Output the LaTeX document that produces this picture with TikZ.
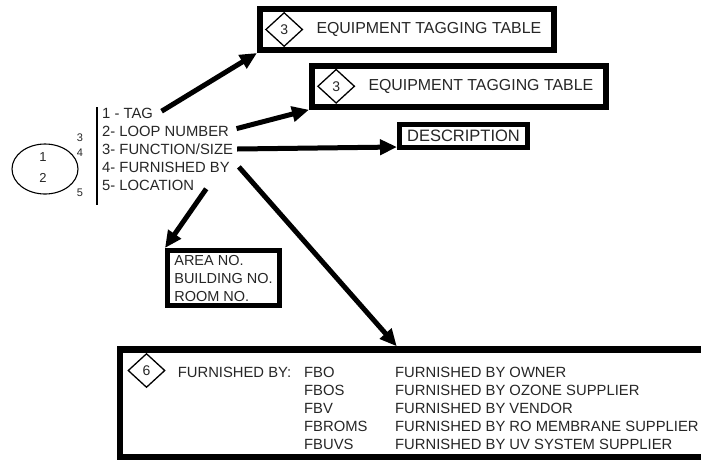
\documentclass[tikz,border=0pt]{standalone}
\usepackage{fontspec}
\setmainfont{Liberation Sans}
\usetikzlibrary{arrows.meta, positioning, shapes.geometric}

\begin{document}
\begin{tikzpicture}[
  x=1pt, y=-1pt,
  >={Triangle[length=17pt, width=15pt]},
  font=\fontsize{14.8pt}{18pt}\selectfont,
  every node/.style={text=black!85},
  tagbox/.style={
    rectangle, draw=black,
    line width=6pt,
    inner sep=0pt,
    minimum width=293.5pt,
    minimum height=41pt
  },
  tagmark/.style={diamond, draw=black, line width=1.3pt, inner sep=0pt,
    minimum width=37pt, minimum height=34pt, font=\fontsize{14pt}{14pt}\selectfont},
  label/.style={inner sep=0pt},
  row/.style={inner sep=0pt, text height=11pt, text depth=0pt, anchor=north west},
  small/.style={inner sep=0pt, font=\fontsize{11pt}{11pt}\selectfont},
  link/.style={->, line width=5pt},
]
\path[use as bounding box, clip] (0,0) rectangle (701,459);

% --- Bubble ---
\node[ellipse, draw=black, line width=1.1pt, minimum width=66pt, minimum height=50pt] (bubble) at (45,169) {};
\node[label, font=\fontsize{13pt}{13pt}\selectfont] (b1) at (43,157) {1};
\node[label, font=\fontsize{13pt}{13pt}\selectfont] (b2) at (43,178) {2};
\node[small] (s3) at (80,138) {3};
\node[small] (s4) at (80,153) {4};
\node[small] (s5) at (80,193) {5};

% --- Legend list ---
\coordinate (bartop) at (97,107);
\coordinate (barbot) at (97,205);
\draw[line width=1.4pt] (bartop) -- (barbot);
\node[row] (r1) at (102,107.5) {1 - TAG};
\node[row, below=6.5pt of r1.south west, anchor=north west] (r2) {2- LOOP NUMBER};
\node[row, below=6.5pt of r2.south west, anchor=north west] (r3) {3- FUNCTION/SIZE};
\node[row, below=6.5pt of r3.south west, anchor=north west] (r4) {4- FURNISHED BY};
\node[row, below=6.5pt of r4.south west, anchor=north west] (r5) {5- LOCATION};

% --- Tagging tables ---
\node[tagbox] (eq1) at (406.75,29.5) {};
\node[tagmark, anchor=west] (d1) at ([xshift=8pt]eq1.west) {3};
\node[label, right=13pt of d1, font=\fontsize{15.9pt}{16pt}\selectfont] (t1) {EQUIPMENT TAGGING TABLE};

\node[tagbox] (eq2) at (458.75,86.25) {};
\node[tagmark, anchor=west] (d2) at ([xshift=8pt]eq2.west) {3};
\node[label, right=13pt of d2, font=\fontsize{15.9pt}{16pt}\selectfont] (t2) {EQUIPMENT TAGGING TABLE};

% --- Description ---
\node[draw=black, line width=5pt, inner sep=1pt, minimum width=128pt, minimum height=23pt,
  font=\fontsize{16.5pt}{17pt}\selectfont] (desc) at (463.5,136) {DESCRIPTION};

% --- Location ---
\node[draw=black, line width=5pt, align=left, inner sep=0pt, minimum width=112pt, minimum height=55pt,
  font=\fontsize{14.5pt}{18pt}\selectfont] (area) at (223.5,278) {AREA NO.\\BUILDING NO.\\ROOM NO.};

% --- Furnished by table ---
\node[draw=black, line width=6.5pt, inner sep=0pt, minimum width=700pt, minimum height=108pt] (fb) at (470,403.5) {};
\node[tagmark] (d6) at (146.5,370.5) {6};
\node[label, right=12pt of d6, yshift=-1.5pt] (fbhead) {FURNISHED BY:};
\node[label, align=left, anchor=north west] (codes) at (304,366.7) {FBO\\FBOS\\FBV\\FBROMS\\FBUVS};
\node[label, align=left, anchor=north west] (meanings) at (395,366.7) {FURNISHED BY OWNER\\FURNISHED BY OZONE SUPPLIER\\FURNISHED BY VENDOR\\FURNISHED BY RO MEMBRANE SUPPLIER\\FURNISHED BY UV SYSTEM SUPPLIER};

% --- Arrows ---
\draw[link] ([shift={(8.5,-2)}]r1.east) -- (eq1.south west);
\draw[link] ([shift={(7.5,-2.5)}]r2.east) -- (eq2.south west);
\draw[link] ([shift={(4,0)}]r3.east) -- ([shift={(0,-3)}]desc.south west);
\draw[link] ([shift={(9,0)}]r4.east) -- ([xshift=280pt]fb.north west);
\draw[link] ([shift={(12,4)}]r5.east) -- (area.north west);

\end{tikzpicture}
\end{document}
